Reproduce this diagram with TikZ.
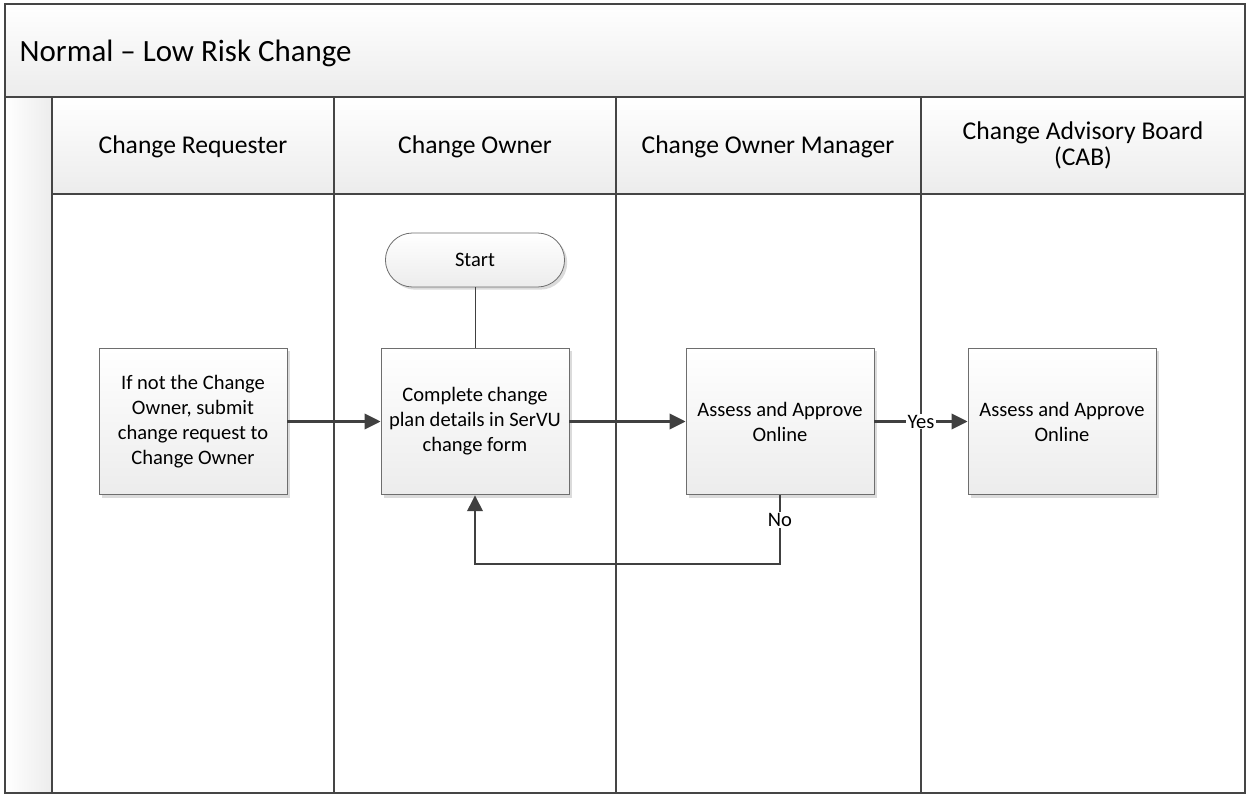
\documentclass[tikz,border=0pt]{standalone}
\usepackage{fontspec}
\setmainfont{Carlito}
\usetikzlibrary{arrows.meta,shadows,shapes.misc}
\definecolor{frameline}{HTML}{454545}
\definecolor{boxline}{HTML}{6E6E6E}
\definecolor{shadeend}{HTML}{ECECEC}
\definecolor{flowline}{HTML}{404040}

\begin{document}
\begin{tikzpicture}[x=0.75pt,y=-0.75pt,
  lane/.style={draw=frameline,line width=1.6pt},
  band/.style={lane,top color=white,bottom color=shadeend},
  strip/.style={lane,left color=white,right color=shadeend},
  headtext/.style={align=center,font=\fontsize{19.2}{19.5}\selectfont},
  process/.style={draw=boxline,line width=0.6pt,top color=white,bottom color=shadeend,
    minimum width=141pt,minimum height=110pt,align=center,inner sep=2pt,
    font=\fontsize{15.4}{18.8}\selectfont,
    drop shadow={shadow xshift=2pt,shadow yshift=-2pt,fill=black!14,opacity=1}},
  terminal/.style={rounded rectangle,draw=boxline,line width=0.6pt,top color=white,bottom color=shadeend,
    minimum width=141pt,minimum height=40.5pt,font=\fontsize{15.4}{18.8}\selectfont,
    drop shadow={shadow xshift=2pt,shadow yshift=-2pt,fill=black!14,opacity=1}},
  flow/.style={draw=flowline,line width=1.9pt},
  flowarrow/.style={flow,-{Triangle[length=12pt,width=11.5pt]}},
  flowlabel/.style={fill=white,inner sep=1pt,font=\fontsize{15.4}{18.8}\selectfont}
]
\useasboundingbox (0,0) rectangle (1247,795);

% pool title band
\draw[band] (5,4) rectangle (1245,97);
\node[anchor=west,font=\fontsize{23.2}{28}\selectfont] (title) at (15,53) {Normal – Low Risk Change};

% left strip
\draw[strip] (5,97) rectangle (52,793);

% lane headers
\draw[band] (52,97) rectangle (334,194);
\draw[band] (334,97) rectangle (616,194);
\draw[band] (616,97) rectangle (921,194);
\draw[band] (921,97) rectangle (1245,194);

% lane bodies
\draw[lane,fill=white] (52,194) rectangle (334,793);
\draw[lane,fill=white] (334,194) rectangle (616,793);
\draw[lane,fill=white] (616,194) rectangle (921,793);
\draw[lane,fill=white] (921,194) rectangle (1245,793);

\node[headtext] (h1) at (193,147) {Change Requester};
\node[headtext] (h2) at (475,147) {Change Owner};
\node[headtext] (h3) at (768,147) {Change Owner Manager};
\node[headtext] (h4) at (1083,145) {Change Advisory Board\\(CAB)};

% process steps
\node[terminal] (start) at (475,260) {Start};
\node[process] (req) at (193,421.5) {If not the Change\\Owner, submit\\change request to\\Change Owner};
\node[process] (plan) at (475,421.5) {Complete change\\plan details in SerVU\\change form};
\node[process] (mgr) at (780,421.5) {Assess and Approve\\Online};
\node[process] (cab) at (1062,421.5) {Assess and Approve\\Online};

\coordinate (loop) at (780,564);

% connectors
\draw[draw=flowline,line width=0.75pt] (start.south) -- (plan.north);
\draw[flowarrow] (req.east) -- (plan.west);
\draw[flowarrow] (plan.east) -- (mgr.west);
\draw[flowarrow] (mgr.east) -- node[flowlabel] {Yes} (cab.west);
\draw[flowarrow] (mgr.south) -- node[flowlabel,pos=0.36] {No} (loop) -| (plan.south);
\end{tikzpicture}
\end{document}
